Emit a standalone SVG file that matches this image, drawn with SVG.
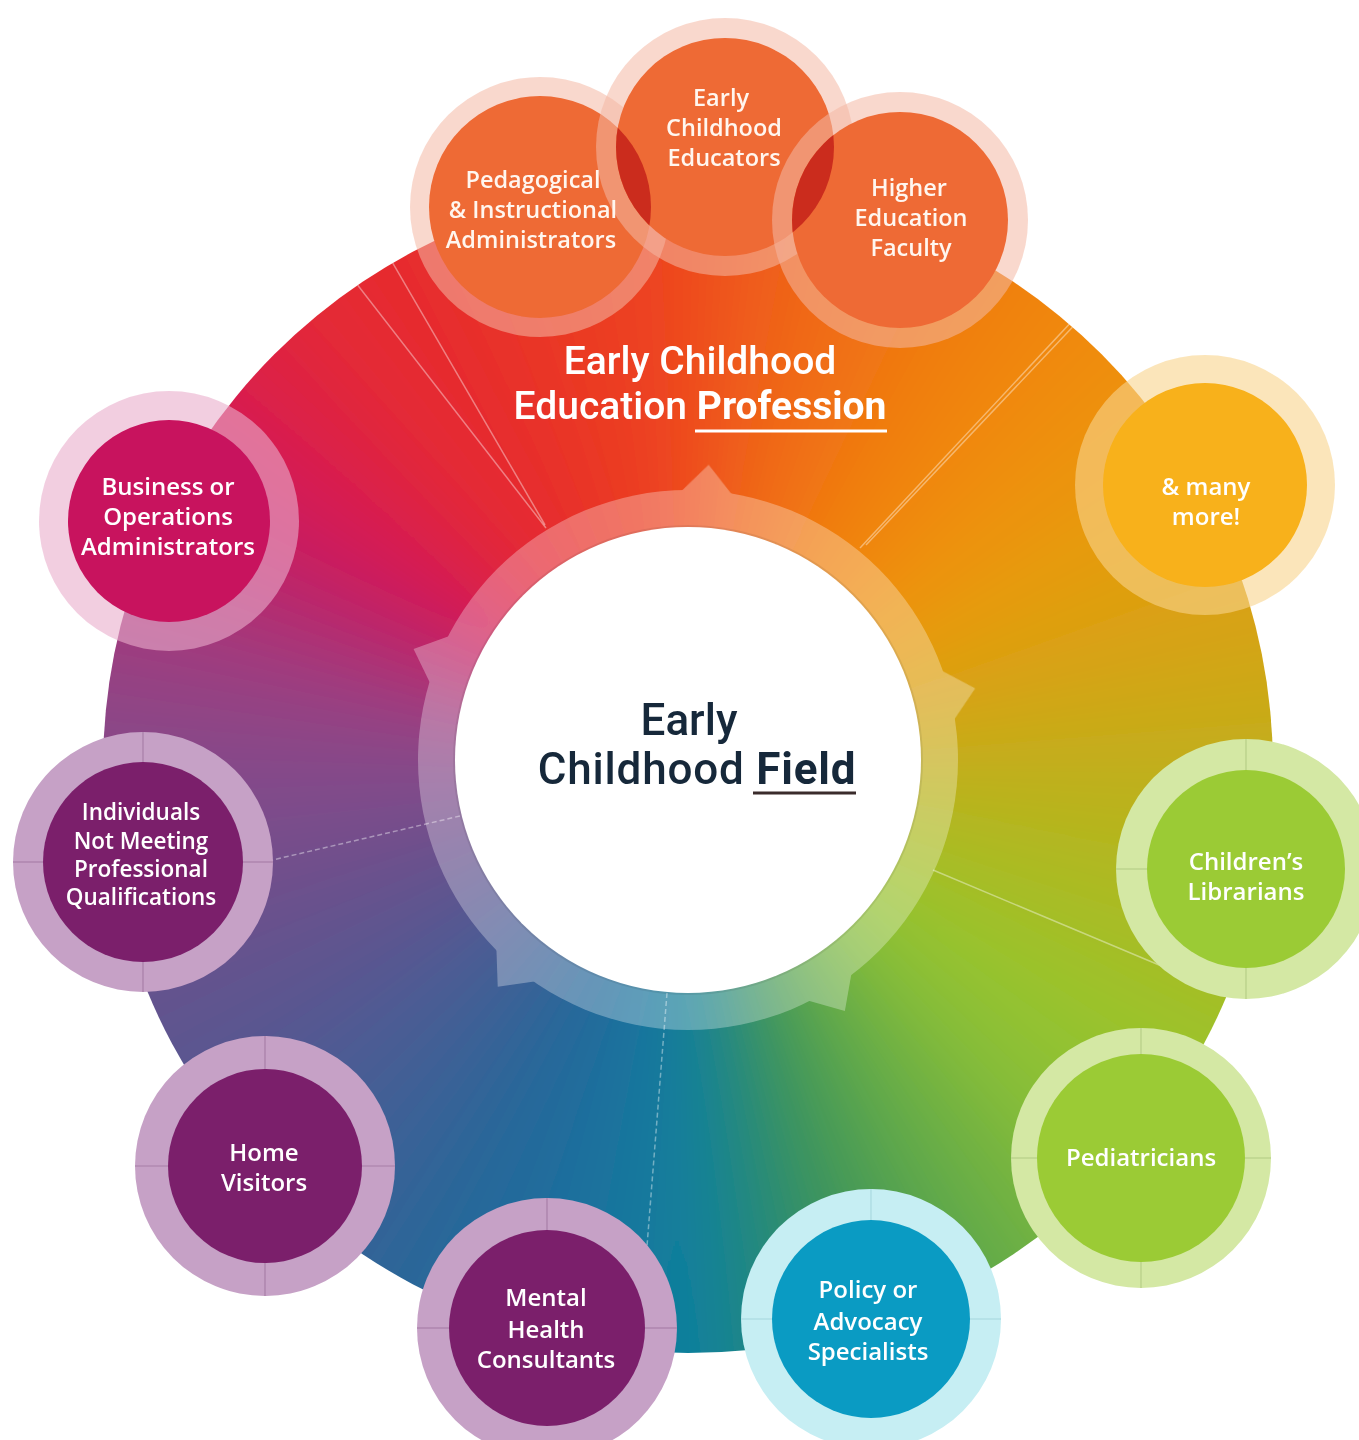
<svg xmlns="http://www.w3.org/2000/svg" width="1359" height="1440" viewBox="0 0 1359 1440">
<defs>
<style>
.lbl{font-family:"Open Sans","Liberation Sans",sans-serif;font-weight:600;font-size:24px;fill:#fff;text-anchor:middle}
.sm{font-size:22.5px}
.tlbl{font-family:"Open Sans","Liberation Sans",sans-serif;font-weight:600;font-size:23.5px;fill:#fff6ef;text-anchor:middle}
.ctr{font-family:Roboto,"Liberation Sans",sans-serif;font-weight:500;font-size:44px;fill:#16283a;text-anchor:middle}
.prof{font-family:Roboto,"Liberation Sans",sans-serif;font-weight:500;font-size:39px;fill:#fff;text-anchor:middle}
.div{stroke:#fff;stroke-opacity:.4;stroke-width:1.5;fill:none}
.dash{stroke-dasharray:5 3}
.tick{stroke-width:1.2;stroke-opacity:.4}
.hp{fill:#C6A1C6}
.ip{fill:#7B1F6B}
.tp{stroke:#7a4a7a}
.hg{fill:#D4E8A4}
.ig{fill:#9BCB35}
.tg{stroke:#8aa860}
.ho{fill:#F4B8A4;fill-opacity:.55}
.io{fill:#EE6A35}
.lens{fill:#CB2C1D}
</style>
<clipPath id="diskClip"><circle cx="688" cy="768" r="585"/></clipPath>
<clipPath id="edClip"><circle cx="725" cy="147" r="109"/></clipPath>
<filter id="soft" filterUnits="userSpaceOnUse" x="-1000" y="-1000" width="2000" height="2000"><feGaussianBlur stdDeviation="32"/></filter>
<path id="wg" d="M0 0 L-71 -895 L71 -895 Z"/>
<polygon id="notch" points="-27,-266 0,-296 27,-266"/>
</defs>

<rect width="1359" height="1440" fill="#fff"/>

<g id="disk" clip-path="url(#diskClip)">
 <g filter="url(#soft)" transform="translate(688 768)">
  <use href="#wg" transform="rotate(0)" fill="#EE4A1E"/>
  <use href="#wg" transform="rotate(7.5)" fill="#EF5A1B"/>
  <use href="#wg" transform="rotate(15)" fill="#F06818"/>
  <use href="#wg" transform="rotate(22.5)" fill="#F07214"/>
  <use href="#wg" transform="rotate(30)" fill="#F07C10"/>
  <use href="#wg" transform="rotate(37.5)" fill="#F0840D"/>
  <use href="#wg" transform="rotate(45)" fill="#F08C0A"/>
  <use href="#wg" transform="rotate(52.5)" fill="#EC930B"/>
  <use href="#wg" transform="rotate(60)" fill="#E89A0C"/>
  <use href="#wg" transform="rotate(67.5)" fill="#E09E0F"/>
  <use href="#wg" transform="rotate(75)" fill="#D8A212"/>
  <use href="#wg" transform="rotate(82.5)" fill="#CDA816"/>
  <use href="#wg" transform="rotate(90)" fill="#C2AE1A"/>
  <use href="#wg" transform="rotate(97.5)" fill="#B8B41E"/>
  <use href="#wg" transform="rotate(105)" fill="#AEB922"/>
  <use href="#wg" transform="rotate(112.5)" fill="#A5BE27"/>
  <use href="#wg" transform="rotate(120)" fill="#9CC22C"/>
  <use href="#wg" transform="rotate(127.5)" fill="#92C232"/>
  <use href="#wg" transform="rotate(135)" fill="#88BE38"/>
  <use href="#wg" transform="rotate(142.5)" fill="#75B440"/>
  <use href="#wg" transform="rotate(150)" fill="#62AA48"/>
  <use href="#wg" transform="rotate(157.5)" fill="#4D9E53"/>
  <use href="#wg" transform="rotate(165)" fill="#38925E"/>
  <use href="#wg" transform="rotate(172.5)" fill="#24897D"/>
  <use href="#wg" transform="rotate(180)" fill="#10809C"/>
  <use href="#wg" transform="rotate(187.5)" fill="#15789D"/>
  <use href="#wg" transform="rotate(195)" fill="#1A709E"/>
  <use href="#wg" transform="rotate(202.5)" fill="#236B9B"/>
  <use href="#wg" transform="rotate(210)" fill="#2C6698"/>
  <use href="#wg" transform="rotate(217.5)" fill="#386297"/>
  <use href="#wg" transform="rotate(225)" fill="#445E95"/>
  <use href="#wg" transform="rotate(232.5)" fill="#4F5A93"/>
  <use href="#wg" transform="rotate(240)" fill="#5A5690"/>
  <use href="#wg" transform="rotate(247.5)" fill="#64538E"/>
  <use href="#wg" transform="rotate(255)" fill="#6E508C"/>
  <use href="#wg" transform="rotate(262.5)" fill="#794D8B"/>
  <use href="#wg" transform="rotate(270)" fill="#844A8A"/>
  <use href="#wg" transform="rotate(277.5)" fill="#904485"/>
  <use href="#wg" transform="rotate(285)" fill="#A03A7E"/>
  <use href="#wg" transform="rotate(292.5)" fill="#B42A70"/>
  <use href="#wg" transform="rotate(300)" fill="#C81C60"/>
  <use href="#wg" transform="rotate(307.5)" fill="#D61A52"/>
  <use href="#wg" transform="rotate(315)" fill="#DE2242"/>
  <use href="#wg" transform="rotate(322.5)" fill="#E42A34"/>
  <use href="#wg" transform="rotate(330)" fill="#E62C2E"/>
  <use href="#wg" transform="rotate(337.5)" fill="#E83229"/>
  <use href="#wg" transform="rotate(345)" fill="#EA3824"/>
  <use href="#wg" transform="rotate(352.5)" fill="#EC4121"/>
 </g>
</g>

<g id="dividers" clip-path="url(#diskClip)">
 <line class="div" x1="546" y1="528" x2="294" y2="203"/>
 <line class="div" x1="545" y1="525" x2="341" y2="174"/>
 <line class="div" x1="860" y1="548" x2="1118" y2="272"/>
 <line class="div" x1="866" y1="545" x2="1120" y2="277"/>
 <line class="div" x1="933" y1="870" x2="1190" y2="978"/>
 <line class="div dash" x1="667" y1="993" x2="638" y2="1360"/>
 <line class="div dash" x1="460" y1="816" x2="200" y2="877"/>
</g>

<g id="ring" fill="#fff" opacity="0.3">
 <circle cx="688" cy="760" r="270"/>
 <use href="#notch" transform="translate(688 760) rotate(4)"/>
 <use href="#notch" transform="translate(688 760) rotate(76)"/>
 <use href="#notch" transform="translate(688 760) rotate(148)"/>
 <use href="#notch" transform="translate(688 760) rotate(220)"/>
 <use href="#notch" transform="translate(688 760) rotate(292)"/>
</g>

<g id="node-center">
 <circle cx="688" cy="760" r="235" fill="#000" opacity="0.07"/>
 <circle cx="688" cy="760" r="233" fill="#fff"/>
 <text class="ctr" x="689" y="735">Early</text>
 <text class="ctr" x="697" y="784" font-size="45" letter-spacing="0.8">Childhood <tspan font-weight="700">Field</tspan></text>
 <line x1="753" y1="793" x2="856" y2="793" stroke="#3a2b2b" stroke-width="3"/>
</g>

<g id="node-business">
 <circle cx="169" cy="521" r="130" fill="#E9AECB" fill-opacity="0.6"/>
 <circle cx="169" cy="521" r="101" fill="#C8135E"/>
 <text class="lbl" x="168" y="495">Business or</text>
 <text class="lbl" x="168" y="525">Operations</text>
 <text class="lbl" x="168" y="555">Administrators</text>
</g>

<g id="node-individuals">
 <circle class="hp" cx="143" cy="862" r="130"/>
 <g class="tick tp"><line x1="143" y1="732" x2="143" y2="762"/><line x1="143" y1="962" x2="143" y2="992"/><line x1="13" y1="862" x2="43" y2="862"/><line x1="243" y1="862" x2="273" y2="862"/></g>
 <circle class="ip" cx="143" cy="862" r="100"/>
 <text class="lbl sm" x="141" y="820">Individuals</text>
 <text class="lbl sm" x="141" y="849">Not Meeting</text>
 <text class="lbl sm" x="141" y="877">Professional</text>
 <text class="lbl sm" x="141" y="905">Qualifications</text>
</g>

<g id="node-home">
 <circle class="hp" cx="265" cy="1166" r="130"/>
 <g class="tick tp"><line x1="265" y1="1036" x2="265" y2="1069"/><line x1="265" y1="1263" x2="265" y2="1296"/><line x1="135" y1="1166" x2="168" y2="1166"/><line x1="362" y1="1166" x2="395" y2="1166"/></g>
 <circle class="ip" cx="265" cy="1166" r="97"/>
 <text class="lbl" x="264" y="1161">Home</text>
 <text class="lbl" x="264" y="1191">Visitors</text>
</g>

<g id="node-mental">
 <circle class="hp" cx="547" cy="1328" r="130"/>
 <g class="tick tp"><line x1="547" y1="1198" x2="547" y2="1230"/><line x1="417" y1="1328" x2="449" y2="1328"/><line x1="645" y1="1328" x2="677" y2="1328"/></g>
 <circle class="ip" cx="547" cy="1328" r="98"/>
 <text class="lbl" x="546" y="1306">Mental</text>
 <text class="lbl" x="546" y="1338">Health</text>
 <text class="lbl" x="546" y="1368">Consultants</text>
</g>

<g id="node-policy">
 <circle cx="871" cy="1319" r="130" fill="#C6EEF3"/>
 <g class="tick" stroke="#7fb8c4"><line x1="871" y1="1189" x2="871" y2="1220"/><line x1="741" y1="1319" x2="772" y2="1319"/><line x1="970" y1="1319" x2="1001" y2="1319"/></g>
 <circle cx="871" cy="1319" r="99" fill="#0A9BC3"/>
 <text class="lbl" x="868" y="1298">Policy or</text>
 <text class="lbl" x="868" y="1330">Advocacy</text>
 <text class="lbl" x="868" y="1360">Specialists</text>
</g>

<g id="node-pediatricians">
 <circle class="hg" cx="1141" cy="1158" r="130"/>
 <g class="tick tg"><line x1="1141" y1="1028" x2="1141" y2="1054"/><line x1="1141" y1="1262" x2="1141" y2="1288"/><line x1="1011" y1="1158" x2="1037" y2="1158"/><line x1="1245" y1="1158" x2="1271" y2="1158"/></g>
 <circle class="ig" cx="1141" cy="1158" r="104"/>
 <text class="lbl" x="1141" y="1166">Pediatricians</text>
</g>

<g id="node-librarians">
 <circle class="hg" cx="1246" cy="869" r="130"/>
 <g class="tick tg"><line x1="1246" y1="739" x2="1246" y2="770"/><line x1="1246" y1="968" x2="1246" y2="999"/><line x1="1116" y1="869" x2="1147" y2="869"/></g>
 <circle class="ig" cx="1246" cy="869" r="99"/>
 <text class="lbl" x="1246" y="870">Children&#8217;s</text>
 <text class="lbl" x="1246" y="900">Librarians</text>
</g>

<g id="node-more">
 <circle cx="1205" cy="485" r="130" fill="#F8D48C" fill-opacity="0.6"/>
 <circle cx="1205" cy="485" r="102" fill="#F8B11B"/>
 <text class="lbl" x="1206" y="495">&amp; many</text>
 <text class="lbl" x="1206" y="525">more!</text>
</g>

<g id="node-pedagogical">
 <circle class="ho" cx="540" cy="207" r="130"/>
 <circle class="io" cx="540" cy="207" r="111"/>
</g>

<g id="node-educators">
 <circle class="ho" cx="725" cy="147" r="129"/>
 <circle class="io" cx="725" cy="147" r="109"/>
</g>

<g id="node-higher">
 <circle class="ho" cx="900" cy="220" r="128"/>
 <circle class="io" cx="900" cy="220" r="108"/>
</g>

<g id="overlaps" clip-path="url(#edClip)">
 <circle class="lens" cx="540" cy="207" r="111"/>
 <circle class="lens" cx="900" cy="220" r="108"/>
</g>

<g id="labels-top">
 <text class="tlbl" x="533" y="188">Pedagogical</text>
 <text class="tlbl" x="533" y="218">&amp; Instructional</text>
 <text class="tlbl" x="531" y="248">Administrators</text>
 <text class="tlbl" x="721" y="106">Early</text>
 <text class="tlbl" x="724" y="136">Childhood</text>
 <text class="tlbl" x="724" y="166">Educators</text>
 <text class="tlbl" x="909" y="196">Higher</text>
 <text class="tlbl" x="911" y="226">Education</text>
 <text class="tlbl" x="911" y="256">Faculty</text>
</g>

<g id="title-profession">
 <text class="prof" x="700" y="374">Early Childhood</text>
 <text class="prof" x="700" y="419">Education <tspan font-weight="700">Profession</tspan></text>
 <line x1="695" y1="431" x2="887" y2="431" stroke="#fff" stroke-width="3"/>
</g>
</svg>
